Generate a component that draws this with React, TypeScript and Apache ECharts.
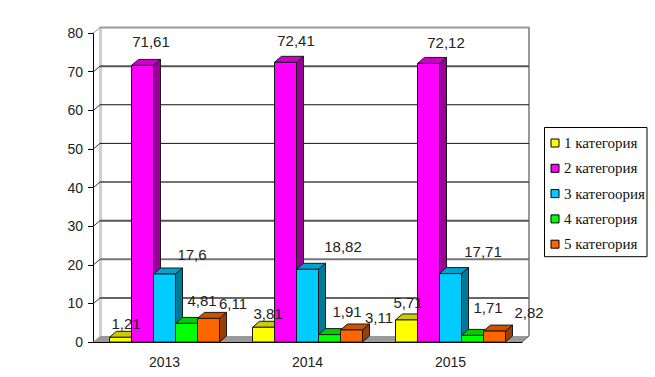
import React, { useEffect, useRef } from "react";
import * as echarts from "echarts";

const years = ["2013", "2014", "2015"];
const seriesNames = ["1 категория", "2 категория", "3 категоория", "4 категория", "5 категория"];
const cat1 = [1.21, 3.81, 5.71];
const cat2 = [71.61, 72.41, 72.12];
const cat3 = [17.6, 18.82, 17.71];
const cat4 = [4.81, 1.91, 1.71];
const cat5 = [6.11, 3.11, 2.82];
const allValues = [cat1, cat2, cat3, cat4, cat5];
const yTicks = [0, 10, 20, 30, 40, 50, 60, 70, 80];

const frontColors = ["#ffff00", "#ff00ff", "#00ccff", "#00ff00", "#ff6600"];
const topColors = ["#cccc00", "#cc00cc", "#00a3cc", "#00cc00", "#cc5200"];
const sideColors = ["#999900", "#990099", "#007a99", "#009900", "#993d00"];

// label centre offset from the top-centre of each bar's front face, [dx, dy]
const labelOffsets = [
  [[5.5, -14], [4.5, -14], [1.5, -17]],
  [[8.5, -24], [10.5, -22], [17.5, -21]],
  [[27.5, -20], [35.5, -23], [32.5, -22]],
  [[15.5, -23], [17.5, -23], [15.5, -28]],
  [[24.5, -15], [27.5, -12], [34.5, -19]],
];

// back-wall gridline look per tick, from 10 up to 80
const gridColors: Record<number, string> = { 10: "#666666", 20: "#777777", 30: "#555555", 40: "#444444", 50: "#111111", 60: "#111111", 70: "#555555", 80: "#999999" };
const gridWidths: Record<number, number> = { 10: 2, 20: 2, 30: 2, 40: 1.5, 50: 1, 60: 1, 70: 2, 80: 2 };

const DX = 7;
const DY = 6;
const BAR_W = 22;

function wallRender(params: any, api: any) {
  const cs = params.coordSys;
  const v = api.value(0);
  const p = api.coord([0, v]);
  const y = p[1];
  const x0 = cs.x;
  const x1 = cs.x + cs.width;
  const children: any[] = [];
  if (v === 0) {
    children.push(
      { type: "polygon", shape: { points: [[x0, y], [x0 + DX, y - DY], [x1 + DX, y - DY], [x1, y]] }, style: { fill: "#999999" } },
      { type: "rect", shape: { x: x0 + DX - 1, y: cs.y - DY, width: 3, height: cs.height }, style: { fill: "#cfcfcf" } },
      { type: "line", shape: { x1: x1 + DX, y1: cs.y - DY, x2: x1 + DX, y2: y - DY }, style: { stroke: "#999999", lineWidth: 2 } },
      { type: "line", shape: { x1: x1, y1: y, x2: x1 + DX, y2: y - DY }, style: { stroke: "#555555", lineWidth: 1 } }
    );
    return { type: "group", children };
  }
  children.push(
    { type: "line", shape: { x1: x0, y1: y + 0.5, x2: x0 + DX, y2: y + 0.5 - DY }, style: { stroke: v === 80 ? "#999999" : "#333333", lineWidth: 1 } },
    { type: "line", shape: { x1: x0 + DX, y1: y - DY + 0.5, x2: x1 + DX, y2: y - DY + 0.5 }, style: { stroke: gridColors[v], lineWidth: gridWidths[v] } }
  );
  return { type: "group", children };
}

function barLeft(api: any, c: number, si: number) {
  const band = api.size([1, 0])[0];
  const base = api.coord([c, 0]);
  return base[0] - band / 2 + (band - BAR_W * 5) / 2 + si * BAR_W;
}

function barRender(si: number) {
  return (params: any, api: any) => {
    const c = api.value(0);
    const v = api.value(1);
    const base = api.coord([c, 0]);
    const head = api.coord([c, v]);
    const left = barLeft(api, c, si);
    const right = left + BAR_W;
    const yt = head[1];
    const yb = base[1];
    const stroke = { stroke: "#1a1a1a", lineWidth: 1 };
    return {
      type: "group",
      children: [
        { type: "polygon", shape: { points: [[left, yt], [left + DX, yt - DY], [right + DX, yt - DY], [right, yt]] }, style: { fill: topColors[si], ...stroke } },
        { type: "polygon", shape: { points: [[right, yt], [right + DX, yt - DY], [right + DX, yb - DY], [right, yb]] }, style: { fill: sideColors[si], ...stroke } },
        { type: "rect", shape: { x: left, y: yt, width: BAR_W, height: yb - yt }, style: { fill: frontColors[si], ...stroke } },
      ],
    };
  };
}

function labelRender(params: any, api: any) {
  const c = api.value(0);
  const v = api.value(1);
  const si = api.value(2);
  const head = api.coord([c, v]);
  const off = labelOffsets[si][c];
  return {
    type: "text",
    style: {
      x: barLeft(api, c, si) + BAR_W / 2 + off[0],
      y: head[1] + off[1],
      text: String(v).replace(".", ","),
      fill: "#222222",
      font: "15px 'Liberation Sans'",
      align: "center",
      verticalAlign: "middle",
    },
  };
}

export default function App() {
  const ref = useRef<HTMLDivElement>(null);
  useEffect(() => {
    const chart = echarts.init(ref.current!, undefined, { renderer: "svg" });
    chart.setOption({
      animation: false,
      backgroundColor: "#ffffff",
      grid: { left: 93, top: 33, width: 429, height: 309, containLabel: false },
      legend: {
        orient: "vertical",
        left: 544.5,
        top: 127.5,
        padding: [8, 2, 5, 6],
        itemGap: 10.3,
        itemWidth: 8,
        itemHeight: 8,
        itemTextGap: 1,
        icon: "rect",
        borderColor: "#000000",
        borderWidth: 1,
        selectedMode: false,
        textStyle: { fontFamily: "'Liberation Serif'", fontSize: 15, lineHeight: 14, color: "#111111" },
        data: seriesNames.map((name, i) => ({
          name,
          itemStyle: { color: frontColors[i], borderColor: "#000000", borderWidth: 1 },
        })),
      },
      xAxis: {
        type: "category",
        data: years,
        axisLine: { lineStyle: { color: "#000000" } },
        axisTick: { length: 4, lineStyle: { color: "#000000" } },
        axisLabel: { color: "#222222", fontFamily: "'Liberation Sans'", fontSize: 14, margin: 13 },
      },
      yAxis: {
        type: "value",
        min: 0,
        max: 80,
        interval: 10,
        axisLine: { show: true, lineStyle: { color: "#000000" } },
        axisTick: { show: true, length: 5, lineStyle: { color: "#000000" } },
        axisLabel: { color: "#222222", fontFamily: "'Liberation Sans'", fontSize: 14, margin: 10 },
        splitLine: { show: false },
      },
      series: [
        {
          type: "custom",
          name: "walls",
          silent: true,
          z: 1,
          clip: false,
          data: yTicks.map((v) => [v]),
          encode: { y: 0 },
          renderItem: wallRender,
        },
        ...allValues.map((vals, si) => ({
          type: "custom",
          name: seriesNames[si],
          z: 5 + si,
          clip: false,
          itemStyle: { color: frontColors[si] },
          data: vals.map((v, c) => [c, v]),
          encode: { x: 0, y: 1 },
          renderItem: barRender(si),
        })),
        {
          type: "custom",
          name: "labels",
          silent: true,
          z: 20,
          clip: false,
          data: allValues.flatMap((vals, si) => vals.map((v, c) => [c, v, si])),
          encode: { x: 0, y: 1 },
          renderItem: labelRender,
        },
      ],
    });
    return () => chart.dispose();
  }, []);
  return <div ref={ref} style={{ position: "absolute", left: 0, top: 0, width: 655, height: 377 }} />;
}
